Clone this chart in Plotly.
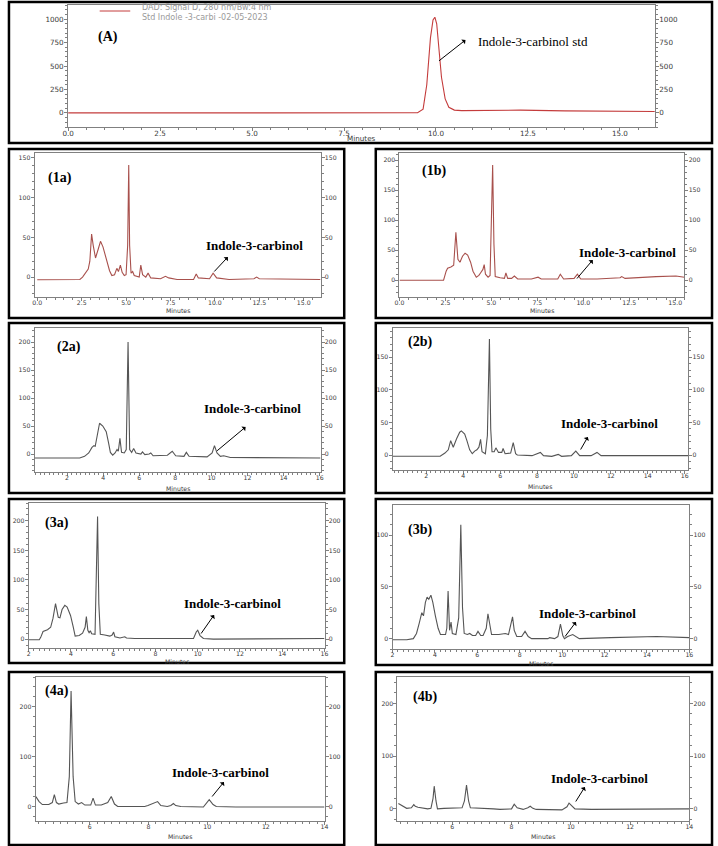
import plotly.graph_objects as go

# ---- data (time in min, signal in mAU) ----
a_time = [0, 4.0, 5.2, 5.3, 5.4, 9.5, 9.65, 9.75, 9.85, 9.92, 9.97, 10.02, 10.08, 10.15, 10.25, 10.35, 10.5, 10.7, 12.3, 13.5, 15.95]
a_signal = [0, 0, 0, -8, 0, 2, 40, 300, 800, 990, 1020, 950, 700, 380, 150, 60, 30, 25, 30, 22, 15]

p1a_time = [0, 2.4, 2.55, 2.7, 2.87, 2.96, 3.06, 3.15, 3.28, 3.43, 3.56, 3.7, 3.9, 4.07, 4.2, 4.35, 4.48, 4.57, 4.68, 4.78,
            4.9, 5.0, 5.09, 5.15, 5.2, 5.28, 5.37, 5.46, 5.74, 5.83, 5.93, 6.11, 6.24, 6.39, 6.94, 7.22, 7.4, 7.87, 8.8, 8.95,
            9.07, 9.7, 9.9, 10.1, 10.8, 12.2, 12.35, 12.5, 15.95]
p1a_signal = [-3.4, -3, 0, 5, 10, 20, 54, 40, 24, 35, 45, 38, 22, 8, 2, 3, 11, 7, 15, 6,
              2, 3, 40, 141, 40, 5, 7, 2, 0, 15, 3, 0, 5, -1, -2, 1, -1, -3, -3, 4,
              -1, -2, 5, -1, -3, -2, 0, -2, -3]

p1b_time = [0, 2.4, 2.54, 2.62, 2.8, 2.95, 3.07, 3.18, 3.29, 3.43, 3.57, 3.71, 3.87, 4.0, 4.18, 4.32, 4.41, 4.54, 4.61, 4.68,
            4.82, 4.93, 5.0, 5.07, 5.14, 5.21, 5.48, 5.71, 5.79, 5.89, 6.1, 6.25, 6.43, 7.18, 7.54, 7.71, 8.61, 8.75, 8.93, 9.5,
            9.68, 9.86, 10.75, 11.46, 11.55, 12.0, 12.09, 12.27, 13.96, 15.04, 15.5]
p1b_signal = [0, 0, 15, 20, 22, 25, 80, 35, 30, 40, 45, 42, 30, 15, 5, 8, 12, 18, 26, 10,
              5, 8, 100, 192, 60, 6, 4, 3, 12, 3, 3, 7, 2, 2, 5, 2, 2, 10, 2, 3,
              10, 2, 2, 3, 4, 4, 6, 3, 6, 7, 5]

p2a_time = [0.2, 2.7, 2.97, 3.2, 3.38, 3.49, 3.56, 3.67, 3.8, 3.98, 4.17, 4.3, 4.4, 4.53, 4.66, 4.77, 4.84, 4.93, 5.02, 5.17,
            5.28, 5.38, 5.47, 5.58, 5.69, 5.82, 6.09, 6.18, 6.31, 6.55, 6.64, 6.77, 7.56, 7.83, 8.02, 8.48, 8.61, 8.76, 9.21, 9.76,
            10.04, 10.17, 10.31, 10.5, 10.68, 11.05, 16.05]
p2a_signal = [-7, -7, -4, 2, 12, 15, 14, 30, 55, 50, 40, 20, 3, -2, 2, 8, 5, 28, 3, 2,
              8, 200, 8, 3, 10, 2, 0, 4, -1, 0, 2, -3, -2, 5, -3, -4, 3, -4, -5, -5,
              2, 15, 2, -4, -3, -6, -7]

p2b_time = [0.17, 2.75, 3.01, 3.19, 3.32, 3.46, 3.64, 3.81, 3.9, 4.08, 4.2, 4.35, 4.49, 4.62, 4.74, 4.85, 4.94, 5.02, 5.2, 5.31,
            5.42, 5.49, 5.56, 5.68, 5.77, 5.91, 6.09, 6.16, 6.27, 6.57, 6.71, 6.84, 6.93, 7.73, 8.18, 8.35, 8.8, 9.15, 9.33, 9.86,
            10.1, 10.31, 10.93, 11.25, 11.47, 16.2]
p2b_signal = [-2, -2, 3, 8, 22, 12, 25, 35, 37, 32, 22, 8, 2, 6, 8, 12, 24, 5, 2, 30,
              178, 40, 5, 5, 11, 4, 4, 10, 2, 3, 19, 2, 0, -1, 4, -1, -2, 1, -2, -1,
              6, -1, -1, 4, -1, -1]

p3a_time = [2.0, 2.5, 2.57, 2.68, 2.89, 3.04, 3.15, 3.27, 3.4, 3.48, 3.58, 3.71, 3.82, 3.98, 4.1, 4.2, 4.39, 4.55, 4.67, 4.73,
            4.8, 4.86, 4.92, 4.98, 5.14, 5.21, 5.26, 5.32, 5.39, 5.6, 5.84, 5.95, 6.02, 6.08, 6.32, 6.55, 6.63, 7.02, 8.01, 8.71,
            9.02, 9.17, 9.8, 9.93, 10.0, 10.11, 10.27, 10.74, 16.0]
p3a_signal = [-1, -1, 3, 13, 16, 20, 35, 60, 37, 36, 50, 57, 54, 40, 22, 5, 6, 10, 20, 38,
              15, 11, 14, 9, 8, 100, 207, 60, 8, 7, 5, 7, 12, 4, 2, 4, 2, 1, 1, 0,
              1, 0, 1, 12, 15, 6, 1, 0, 1]

p3b_time = [2.0, 2.67, 2.98, 3.13, 3.26, 3.38, 3.46, 3.55, 3.63, 3.71, 3.81, 3.9, 4.02, 4.15, 4.26, 4.5, 4.56, 4.62, 4.69, 4.71,
            4.76, 4.82, 4.99, 5.12, 5.22, 5.3, 5.38, 5.53, 5.64, 5.77, 5.92, 6.03, 6.16, 6.27, 6.42, 6.5, 6.6, 6.67, 7.01, 7.32,
            7.47, 7.55, 7.66, 7.74, 7.86, 8.09, 8.25, 8.4, 8.56, 9.33, 9.41, 9.64, 9.8, 9.92, 10.03, 10.11, 10.26, 10.5, 10.65,
            10.81, 12.28, 14.45, 16.0]
p3b_signal = [-1, -1, 0, 5, 15, 25, 22, 35, 40, 38, 42, 35, 22, 10, 4, 4, 10, 46, 8, 12,
              16, 5, 4, 20, 110, 30, 5, 4, 5, 3, 3, 7, 3, 3, 10, 24, 10, 4, 4, 5,
              4, 12, 21, 8, 2, 2, 7, 2, 0, 0, 1, 0, 2, 14, 3, 0, 2, 4, 2,
              0, 1, 2, 1]

p4a_time = [4.16, 4.27, 4.38, 4.6, 4.72, 4.79, 4.86, 4.94, 5.1, 5.22, 5.3, 5.36, 5.43, 5.5, 5.61, 5.72, 5.83, 6.03, 6.11, 6.19,
            6.39, 6.61, 6.73, 6.84, 6.95, 7.87, 7.98, 8.31, 8.42, 8.64, 8.76, 8.85, 8.93, 9.1, 9.87, 9.98, 10.07, 10.2, 10.31, 10.98,
            14.0]
p4a_signal = [20, 10, 4, 4, 8, 24, 8, 5, 7, 8, 60, 232, 60, 10, 5, 8, 3, 3, 17, 3,
              3, 8, 20, 5, 0, 0, 2, 10, 2, 0, 2, 6, 2, 0, -1, 8, 14, 4, 0, -1,
              -1]

p4b_time = [4.18, 4.29, 4.46, 4.62, 4.7, 4.75, 4.84, 5.17, 5.28, 5.35, 5.39, 5.45, 5.5, 5.72, 6.05, 6.33, 6.41, 6.48, 6.55, 6.61,
            7.39, 7.61, 8.0, 8.09, 8.19, 8.39, 8.55, 8.63, 8.72, 8.83, 9.7, 9.87, 9.94, 10.03, 10.14, 10.7, 14.0]
p4b_signal = [10, 6, 1, 2, 8, 5, 3, 0, 1, 20, 43, 15, 0, 1, 2, 2, 15, 45, 15, 2,
              0, -1, 0, 9, 2, -1, 2, 5, 1, -1, -2, 4, 11, 6, 0, -1, 0]

panel_names = ['(A)', '(1a)', '(1b)', '(2a)', '(2b)', '(3a)', '(3b)', '(4a)', '(4b)']
peak_label = 'Indole-3-carbinol'
legend_lines = ['DAD: Signal D, 280 nm/Bw:4 nm', 'Std Indole -3-carbi -02-05-2023']

W, H = 718, 846


def px(x):
    return x / W


def py(y):
    return 1 - y / H


RED = '#c43c3c'
BROWN = '#a8504c'
GREY = '#555555'

# plot area (left, right, top, bottom) in pixels, axis ranges, ticks
panels = [
    dict(t=a_time, s=a_signal, area=(63, 658, 5, 127), xr=[0, 15.95], yr=[-150, 1150],
         xt=[0, 2.5, 5, 7.5, 10, 12.5, 15], xf='.1f', xm=0.5, yt=[0, 250, 500, 750, 1000], ym=50, c=RED, fs=7.2),
    dict(t=p1a_time, s=p1a_signal, area=(29, 319, 153, 297), xr=[-0.15, 15.95], yr=[-25, 156],
         xt=[0, 2.5, 5, 7.5, 10, 12.5, 15], xf='.1f', xm=0.5, yt=[0, 50, 100, 150], ym=10, c=BROWN, fs=6.2),
    dict(t=p1b_time, s=p1b_signal, area=(399, 688, 153, 297), xr=[0, 15.5], yr=[-28, 212],
         xt=[0, 2.5, 5, 7.5, 10, 12.5, 15], xf='.1f', xm=0.5, yt=[0, 50, 100, 150, 200], ym=10, c=BROWN, fs=6.2),
    dict(t=p2a_time, s=p2a_signal, area=(29, 319, 328, 472), xr=[0.2, 16.05], yr=[-32, 225],
         xt=[2, 4, 6, 8, 10, 12, 14, 16], xf='d', xm=0.25, yt=[0, 50, 100, 150, 200], ym=10, c=GREY, fs=6.2),
    dict(t=p2b_time, s=p2b_signal, area=(392, 692, 328, 470), xr=[0.17, 16.2], yr=[-23, 195],
         xt=[2, 4, 6, 8, 10, 12, 14, 16], xf='d', xm=0.25, yt=[0, 50, 100, 150], ym=10, c=GREY, fs=6.2),
    dict(t=p3a_time, s=p3a_signal, area=(23, 323, 503, 648), xr=[2, 16], yr=[-15, 230],
         xt=[2, 4, 6, 8, 10, 12, 14, 16], xf='d', xm=0.25, yt=[0, 50, 100, 150, 200], ym=10, c=GREY, fs=6.2),
    dict(t=p3b_time, s=p3b_signal, area=(392, 693, 505, 649), xr=[2, 16], yr=[-10, 129],
         xt=[2, 4, 6, 8, 10, 12, 14, 16], xf='d', xm=0.25, yt=[0, 50, 100], ym=10, c=GREY, fs=6.2),
    dict(t=p4a_time, s=p4a_signal, area=(30, 323, 677, 821), xr=[4.15, 14], yr=[-29, 260],
         xt=[6, 8, 10, 12, 14], xf='d', xm=0.25, yt=[0, 100, 200], ym=20, c=GREY, fs=6.2),
    dict(t=p4b_time, s=p4b_signal, area=(397, 693, 677, 821), xr=[4.15, 14], yr=[-23, 250],
         xt=[6, 8, 10, 12, 14], xf='d', xm=0.25, yt=[0, 100, 200], ym=20, c=GREY, fs=6.2),
]

# outer black boxes (left, top, right, bottom)
boxes = [(3, 2, 716, 143),
         (3, 149, 343, 318), (375, 149, 716, 318),
         (3, 323, 343, 493), (375, 323, 716, 493),
         (3, 499, 343, 663), (375, 499, 716, 665),
         (3, 672, 343, 845), (375, 672, 716, 845)]

label_pos = [(103, 37), (55, 178), (434, 171), (64, 347), (420, 342), (52, 523), (420, 530), (52, 691), (425, 697)]
text_pos = [(534, 42), (252, 245), (630, 252), (250, 408), (612, 424), (230, 603), (590, 613), (218, 772), (602, 778)]
# arrow tail -> head, pixels
arrows = [((438, 62), (466, 40)), ((210, 273), (225, 257)), ((578, 280), (595, 260)), ((213, 452), (243, 427)),
          ((582, 451), (590, 437)), ((197, 635), (211, 615)), ((566, 638), (578, 622)), ((208, 798), (221, 782)),
          ((577, 803), (587, 787))]
# "Minutes" title offset below each plot area
title_gap = [11, 13, 13, 16, 16, 13, 14, 15, 15]
# tick label pull-in for x axes
x_standoff = [-4, -3, -3, -3, -3, -3, -3, -3, -3]

fig = go.Figure()
layout = dict(width=W, height=H, margin=dict(l=0, r=0, t=0, b=0), paper_bgcolor='white',
              plot_bgcolor='white', showlegend=False)
shapes = []
annotations = []
axcol = '#808080'
txtcol = '#3a3a3a'
tickfont_family = 'DejaVu Sans, Arial, sans-serif'
serif = 'Liberation Serif, Times New Roman, serif'

for i, p in enumerate(panels):
    n = i + 1
    xs = '' if n == 1 else str(n)
    ry = str(n + 9)
    l, r, t, b = p['area']
    fig.add_trace(go.Scatter(x=p['t'], y=p['s'], mode='lines', line=dict(color=p['c'], width=1.1),
                             xaxis='x' + xs, yaxis='y' + xs, hoverinfo='skip'))
    # same trace, transparent, so the right-hand axis gets drawn
    fig.add_trace(go.Scatter(x=p['t'], y=p['s'], mode='lines', line=dict(color=p['c'], width=1), opacity=0,
                             xaxis='x' + xs, yaxis='y' + ry, hoverinfo='skip'))
    tf = dict(family=tickfont_family, size=p['fs'], color=txtcol)
    yax = dict(range=p['yr'], showline=True, linecolor=axcol, linewidth=1,
               ticks='outside', ticklen=3, tickcolor=axcol, tickvals=p['yt'], ticklabelstandoff=-1,
               tickfont=tf, showgrid=False, zeroline=False,
               minor=dict(dtick=p['ym'], ticks='outside', ticklen=2, tickcolor=axcol, showgrid=False))
    layout['xaxis' + xs] = dict(domain=[px(l), px(r)], range=p['xr'], anchor='y' + xs,
                                showline=True, linecolor=axcol, linewidth=1, mirror=True,
                                ticks='outside', ticklen=3, tickcolor=axcol, tickvals=p['xt'],
                                ticklabelstandoff=x_standoff[i],
                                tickformat=p['xf'], tickfont=tf, showgrid=False, zeroline=False,
                                minor=dict(dtick=p['xm'], ticks='outside', ticklen=2, tickcolor=axcol, showgrid=False))
    layout['yaxis' + xs] = dict(yax, domain=[py(b), py(t)], anchor='x' + xs, side='left')
    layout['yaxis' + ry] = dict(yax, anchor='x' + xs, overlaying='y' + xs, side='right')

    annotations.append(dict(x=px((l + r) / 2), y=py(b + title_gap[i]), xref='paper', yref='paper', text='Minutes',
                            showarrow=False, xanchor='center', yanchor='middle',
                            font=dict(family=tickfont_family, size=p['fs'], color=txtcol)))

    bl, bt, br, bb = boxes[i]
    shapes.append(dict(type='rect', xref='paper', yref='paper', x0=px(bl), x1=px(br), y0=py(bb), y1=py(bt),
                       line=dict(color='black', width=2.5)))

    lx, ly = label_pos[i]
    annotations.append(dict(x=px(lx), y=py(ly), xref='paper', yref='paper', text='<b>%s</b>' % panel_names[i],
                            showarrow=False, xanchor='center', yanchor='middle',
                            font=dict(family=serif, size=14, color='black')))
    tx, ty = text_pos[i]
    txt = peak_label + ' std' if n == 1 else '<b>%s</b>' % peak_label
    annotations.append(dict(x=px(tx), y=py(ty), xref='paper', yref='paper', text=txt, showarrow=False,
                            xanchor='center', yanchor='middle', font=dict(family=serif, size=13, color='black')))
    (t0x, t0y), (hx, hy) = arrows[i]
    annotations.append(dict(x=px(hx), y=py(hy), xref='paper', yref='paper', text='', showarrow=True,
                            ax=t0x - hx, ay=t0y - hy, arrowhead=1, arrowsize=1, arrowwidth=1, arrowcolor='black'))

# legend of panel A
shapes.append(dict(type='line', xref='paper', yref='paper', x0=px(95), x1=px(126), y0=py(11), y1=py(11),
                   line=dict(color=RED, width=1)))
annotations.append(dict(x=px(136), y=py(12.5), xref='paper', yref='paper', text='<br>'.join(legend_lines),
                        showarrow=False, xanchor='left', yanchor='middle', align='left',
                        font=dict(family=tickfont_family, size=8, color='#9a9a9a')))

layout['shapes'] = shapes
layout['annotations'] = annotations
fig.update_layout(**layout)

# drop the default page margin so the 718x846 figure fills the window
fig.write_html('out.html', config={'displayModeBar': False},
               post_script="document.body.style.margin='0px';")
